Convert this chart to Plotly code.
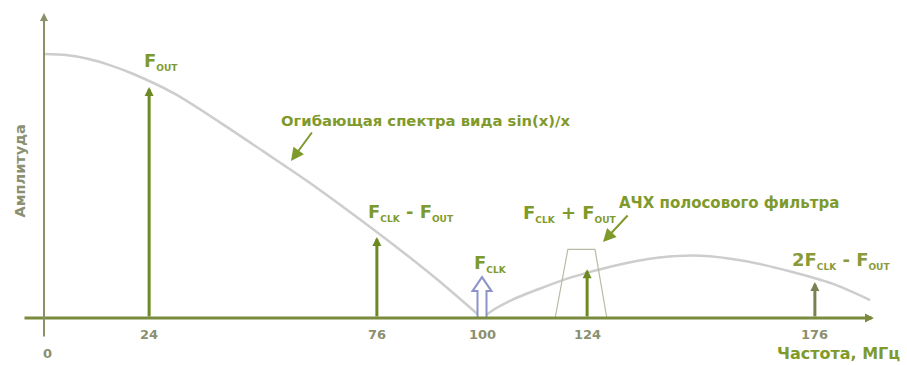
import plotly.graph_objects as go

# ---- data -------------------------------------------------------------
tick_freqs = [0, 24, 76, 100, 124, 176]
tick_labels = ["0", "24", "76", "100", "124", "176"]

# spectral lines (MHz, relative amplitude)
line_freqs = [24, 76, 124, 176]
line_amps = [0.875, 0.307, 0.185, 0.136]
line_colors = ["#6d8a22", "#6d8a22", "#6d8a22", "#7b8050"]

clk_freq = 100
clk_amp = 0.155

# sin(x)/x envelope, main lobe and first image lobe
env_main_f = [0, 5, 10, 15, 20, 30, 40, 50, 60, 70, 80, 90, 100]
env_main_a = [1.0, 0.996, 0.982, 0.958, 0.927, 0.848, 0.743, 0.632, 0.52, 0.40, 0.275, 0.143, 0.0]
env_img_f = [100, 103, 107, 113, 120, 130, 140, 150, 160, 170, 180, 188.6]
env_img_a = [0.0, 0.035, 0.07, 0.11, 0.152, 0.197, 0.228, 0.236, 0.216, 0.178, 0.13, 0.068]

# band-pass filter response (trapezoid)
filter_f = [116.7, 119.6, 125.8, 128.5]
filter_a = [0.0, 0.26, 0.26, 0.0]

# ---- geometry ---------------------------------------------------------
W, H = 907, 365
X0_PX, X_SCALE = 44.0, 4.38      # px of f=0, px per MHz
Y0_PX, Y_SCALE = 318.0, 264.0    # px of amplitude 0, px per unit amplitude
x_range = [-X0_PX / X_SCALE, (W - X0_PX) / X_SCALE]
y_range = [(Y0_PX - H) / Y_SCALE, Y0_PX / Y_SCALE]


def fx(px):
    return (px - X0_PX) / X_SCALE


def fy(py):
    return (Y0_PX - py) / Y_SCALE


FONT = "DejaVu Sans"
GREEN_TXT = "#7f9a2c"
GRAY_TXT = "#8a9070"
ENV_COLOR = "#cdcdcd"

fig = go.Figure()

# envelope
for fs, as_ in ((env_main_f, env_main_a), (env_img_f, env_img_a)):
    fig.add_trace(go.Scatter(x=fs, y=as_, mode="lines",
                             line=dict(color=ENV_COLOR, width=2.5, shape="spline", smoothing=0.8),
                             hoverinfo="skip", showlegend=False))

# filter response
fig.add_trace(go.Scatter(x=filter_f, y=filter_a, mode="lines",
                         line=dict(color="#b9b9a6", width=1.2),
                         hoverinfo="skip", showlegend=False))

annotations = []

# axes with arrowheads
annotations.append(dict(x=fx(874), y=0, ax=fx(23), ay=0, xref="x", yref="y", axref="x", ayref="y",
                        text="", showarrow=True, arrowhead=2, arrowsize=0.6, arrowwidth=3,
                        arrowcolor="#7b8b3e", standoff=0))
annotations.append(dict(x=0, y=fy(13), ax=0, ay=fy(338), xref="x", yref="y", axref="x", ayref="y",
                        text="", showarrow=True, arrowhead=2, arrowsize=0.8, arrowwidth=2,
                        arrowcolor="#8b9068", standoff=0))

# spectral line arrows
for f, a, c in zip(line_freqs, line_amps, line_colors):
    annotations.append(dict(x=f, y=a, ax=f, ay=0, xref="x", yref="y", axref="x", ayref="y",
                            text="", showarrow=True, arrowhead=2, arrowsize=0.6, arrowwidth=3,
                            arrowcolor=c, standoff=0))

# hollow clock arrow
sw = 4.5 / X_SCALE
hw = 9.5 / X_SCALE
hh = 14.0 / Y_SCALE
path = (f"M {clk_freq - sw},0 L {clk_freq - sw},{clk_amp - hh} L {clk_freq - hw},{clk_amp - hh} "
        f"L {clk_freq},{clk_amp} L {clk_freq + hw},{clk_amp - hh} L {clk_freq + sw},{clk_amp - hh} "
        f"L {clk_freq + sw},0 Z")
fig.add_shape(type="path", path=path, xref="x", yref="y", layer="above",
              line=dict(color="#8c93c9", width=2), fillcolor="white")

# tick labels
tick_font = dict(family=FONT, size=13, color=GRAY_TXT, weight="bold")
for f, lab in zip(tick_freqs, tick_labels):
    if f == 0:
        annotations.append(dict(x=f, y=0, xref="x", yref="y", text=lab, showarrow=False,
                                xshift=3, yshift=-35, font=tick_font))
    else:
        annotations.append(dict(x=f, y=0, xref="x", yref="y", text=lab, showarrow=False,
                                yshift=-16, font=tick_font))


def sub(s):
    return f"<sub><span style='font-size:9px'>{s}</span></sub>"


big = dict(family=FONT, size=18, color=GREEN_TXT, weight="bold")

# spectral labels anchored to their lines
annotations.append(dict(x=line_freqs[0], y=line_amps[0], xref="x", yref="y",
                        text="F" + sub("OUT"), showarrow=False, xanchor="left", yanchor="middle",
                        xshift=-7, yshift=26, font=big))
annotations.append(dict(x=line_freqs[1], y=line_amps[1], xref="x", yref="y",
                        text="F" + sub("CLK") + " - F" + sub("OUT"), showarrow=False,
                        xanchor="left", yanchor="middle", xshift=-11, yshift=24, font=big))
annotations.append(dict(x=clk_freq, y=clk_amp, xref="x", yref="y",
                        text="F" + sub("CLK"), showarrow=False,
                        xanchor="left", yanchor="middle", xshift=-10, yshift=14, font=big))
annotations.append(dict(x=line_freqs[2], y=line_amps[2], xref="x", yref="y",
                        text="F" + sub("CLK") + " + F" + sub("OUT"), showarrow=False,
                        xanchor="left", yanchor="middle", xshift=-66, yshift=56, font=big))
annotations.append(dict(x=line_freqs[3], y=line_amps[3], xref="x", yref="y",
                        text="2F" + sub("CLK") + " - F" + sub("OUT"), showarrow=False,
                        xanchor="left", yanchor="middle", xshift=-25, yshift=22,
                        font=dict(family=FONT, size=18, color="#8a9a3a", weight="bold")))

# envelope caption with pointer
annotations.append(dict(x=fx(279), y=fy(120), xref="x", yref="y", text="Огибающая спектра вида sin(x)/x",
                        showarrow=False, xanchor="left", yanchor="middle",
                        font=dict(family=FONT, size=14.8, color=GREEN_TXT, weight="bold")))
annotations.append(dict(x=fx(291), y=fy(161), ax=fx(313), ay=fy(131), xref="x", yref="y",
                        axref="x", ayref="y", text="", showarrow=True, arrowhead=2, arrowsize=1.3,
                        arrowwidth=2, arrowcolor=GREEN_TXT, standoff=0))

# filter caption with pointer
annotations.append(dict(x=fx(617), y=fy(203), xref="x", yref="y", text="АЧХ полосового фильтра",
                        showarrow=False, xanchor="left", yanchor="middle",
                        font=dict(family=FONT, size=15, color=GREEN_TXT, weight="bold")))
annotations.append(dict(x=fx(603), y=fy(242), ax=fx(629), ay=fy(214), xref="x", yref="y",
                        axref="x", ayref="y", text="", showarrow=True, arrowhead=2, arrowsize=1.3,
                        arrowwidth=2, arrowcolor=GREEN_TXT, standoff=0))

# axis titles
annotations.append(dict(x=fx(902), y=fy(353), xref="x", yref="y", text="Частота, МГц",
                        showarrow=False, xanchor="right", yanchor="middle",
                        font=dict(family=FONT, size=16, color=GREEN_TXT, weight="bold")))
annotations.append(dict(x=fx(19.5), y=fy(171), xref="x", yref="y", text="Амплитуда",
                        showarrow=False, textangle=-90, xanchor="center", yanchor="middle",
                        font=dict(family=FONT, size=14.5, color=GRAY_TXT, weight="bold")))

fig.update_layout(
    width=W, height=H, autosize=False,
    margin=dict(l=0, r=0, t=0, b=0),
    paper_bgcolor="white", plot_bgcolor="white",
    xaxis=dict(range=x_range, visible=False, fixedrange=True),
    yaxis=dict(range=y_range, visible=False, fixedrange=True),
    annotations=annotations,
    showlegend=False,
)

fig.write_html("out.html", config={"displayModeBar": False})
